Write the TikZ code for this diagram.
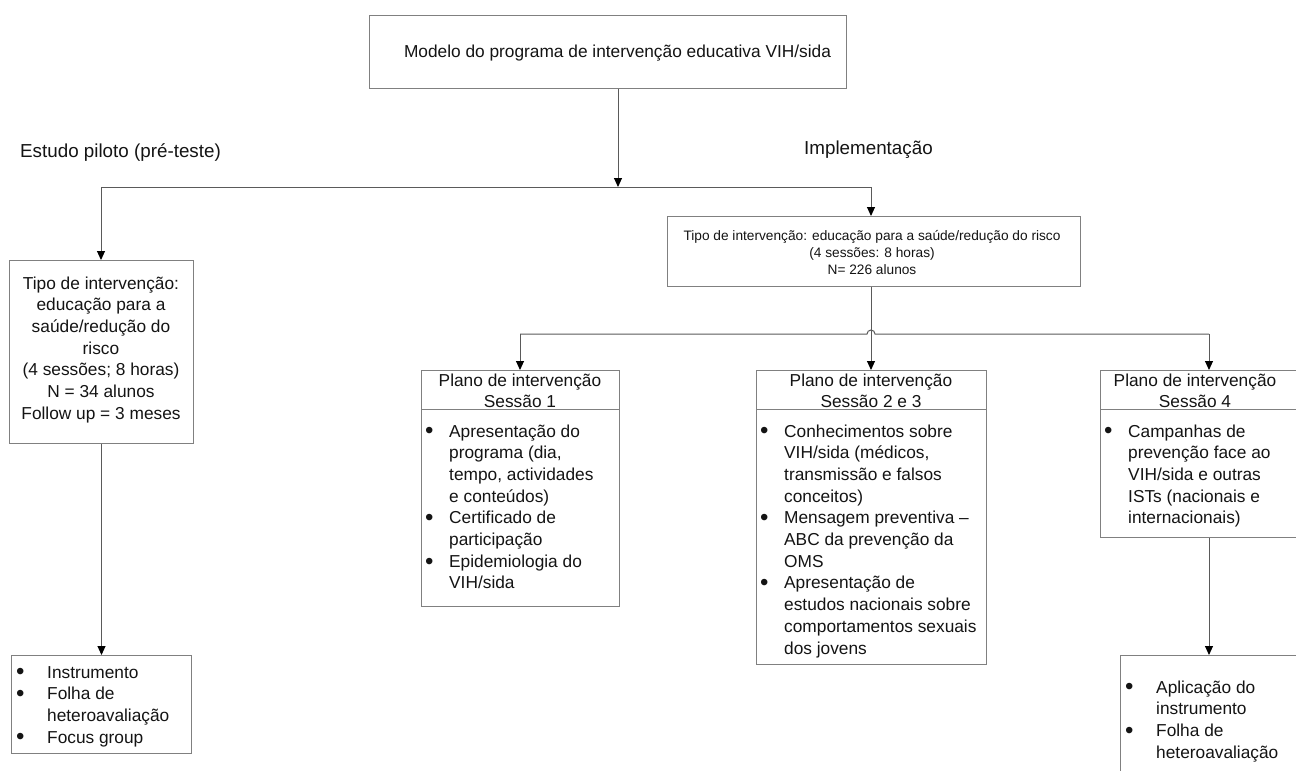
\documentclass[tikz,border=0pt]{standalone}
\usepackage{fontspec}
\setmainfont{Liberation Sans}
\usetikzlibrary{arrows.meta}
\definecolor{framegray}{RGB}{128,128,128}
\definecolor{linegray}{RGB}{90,90,90}
\definecolor{txt}{RGB}{20,20,20}
\newcommand\mainfs{\fontsize{17.3pt}{21.7pt}\selectfont}
\newcommand\smallfs{\fontsize{13.7pt}{17pt}\selectfont}
\newcommand\labelfs{\fontsize{18.8pt}{22pt}\selectfont}
\newcommand\bul{\raisebox{-1.8pt}{\fontsize{24pt}{0pt}\selectfont\textbullet}}
\begin{document}
\begin{tikzpicture}[x=1pt,y=-1pt,
  frame/.style={draw=framegray, line width=1pt, inner sep=0pt, anchor=north west, rectangle},
  rule/.style={draw=framegray, line width=1pt},
  conn/.style={draw=linegray, line width=1pt, -{Triangle[width=8pt,length=9pt,color=black]}},
  plain/.style={draw=linegray, line width=1pt},
  txtnode/.style={inner sep=0pt, text=txt, font=\mainfs},
  every node/.append style={text=txt}]
\path[use as bounding box] (0,0) rectangle (1296,771);
\fill[white] (0,0) rectangle (1296,771);
\clip (0,0) rectangle (1296,771);

% ---------- boxes ----------
\node[frame, minimum width=477pt, minimum height=73pt] (top) at (369,15) {};
\node[txtnode, anchor=base] (toptxt) at (617.5,57.5) {Modelo do programa de intervenção educativa VIH/sida};

\node[frame, minimum width=413pt, minimum height=70pt] (impl) at (667,216) {};
\node[txtnode, font=\smallfs, anchor=base] (impltxt) at (872,240)
  {\begin{tabular}[t]{@{}c@{}}Tipo de intervenção: educação para a saúde/redução do risco\\(4 sessões: 8 horas)\\N= 226 alunos\end{tabular}};

\node[frame, minimum width=184pt, minimum height=183pt] (pilot) at (9,260) {};
\node[txtnode, anchor=base] (pilottxt) at (101,289)
  {\begin{tabular}[t]{@{}c@{}}Tipo de intervenção:\\educação para a\\saúde/redução do\\risco\\(4 sessões; 8 horas)\\N = 34 alunos\\Follow up = 3 meses\end{tabular}};

\node[frame, minimum width=180pt, minimum height=98pt] (bl) at (11,655) {};
\node[txtnode, anchor=base west] (bltxt) at (16,678)
  {\begin{tabular}[t]{@{}p{31pt}@{}l@{}}\bul & Instrumento\\\bul & Folha de\\ & heteroavaliação\\\bul & Focus group\end{tabular}};

% session 1
\node[frame, minimum width=198pt, minimum height=236pt] (s1) at (421,370) {};
\draw[rule] ([yshift=-39pt]s1.north west) -- ([yshift=-39pt]s1.north east);
\node[txtnode, anchor=base] (s1head) at (520,386)
  {\begin{tabular}[t]{@{}c@{}}Plano de intervenção\\Sessão 1\end{tabular}};
\node[txtnode, anchor=base west] (s1body) at (425,437)
  {\begin{tabular}[t]{@{}p{24pt}@{}l@{}}\bul & Apresentação do\\ & programa (dia,\\ & tempo, actividades\\ & e conteúdos)\\\bul & Certificado de\\ & participação\\\bul & Epidemiologia do\\ & VIH/sida\end{tabular}};

% session 2 e 3
\node[frame, minimum width=230pt, minimum height=294pt] (s23) at (756,370) {};
\draw[rule] ([yshift=-39pt]s23.north west) -- ([yshift=-39pt]s23.north east);
\node[txtnode, anchor=base] (s23head) at (871,386)
  {\begin{tabular}[t]{@{}c@{}}Plano de intervenção\\Sessão 2 e 3\end{tabular}};
\node[txtnode, anchor=base west] (s23body) at (760,437)
  {\begin{tabular}[t]{@{}p{24pt}@{}l@{}}\bul & Conhecimentos sobre\\ & VIH/sida (médicos,\\ & transmissão e falsos\\ & conceitos)\\\bul & Mensagem preventiva –\\ & ABC da prevenção da\\ & OMS\\\bul & Apresentação de\\ & estudos nacionais sobre\\ & comportamentos sexuais\\ & dos jovens\end{tabular}};

% session 4
\node[frame, minimum width=218pt, minimum height=167pt] (s4) at (1100,370) {};
\draw[rule] ([yshift=-39pt]s4.north west) -- ([yshift=-39pt]s4.north east);
\node[txtnode, anchor=base] (s4head) at (1195,386)
  {\begin{tabular}[t]{@{}c@{}}Plano de intervenção\\Sessão 4\end{tabular}};
\node[txtnode, anchor=base west] (s4body) at (1104,437)
  {\begin{tabular}[t]{@{}p{24pt}@{}l@{}}\bul & Campanhas de\\ & prevenção face ao\\ & VIH/sida e outras\\ & ISTs (nacionais e\\ & internacionais)\end{tabular}};

\node[frame, minimum width=178pt, minimum height=140pt] (br) at (1120,655) {};
\node[txtnode, anchor=base west] (brtxt) at (1125,693)
  {\begin{tabular}[t]{@{}p{31pt}@{}l@{}}\bul & Aplicação do\\ & instrumento\\\bul & Folha de\\ & heteroavaliação\end{tabular}};

% ---------- labels ----------
\node[inner sep=0pt, font=\labelfs, anchor=base west] (lpilot) at (20,157) {Estudo piloto (pré-teste)};
\node[inner sep=0pt, font=\labelfs, anchor=base west] (limpl) at (804,154) {Implementação};

% ---------- connectors ----------
\coordinate (j0) at (618,187);
\coordinate (jl) at (101,187);
\coordinate (jr) at (871,187);
\coordinate (b1) at (520,334);
\coordinate (bm) at (871,334);
\coordinate (b2) at (1209,334);

\draw[conn] (top.south -| j0) -- (j0);
\draw[plain] (jl) -- (jr);
\draw[conn] (jl) -- (pilot.north -| jl);
\draw[conn] (jr) -- (impl.north -| jr);

\draw[plain] (b1) -- ([xshift=-4pt]bm) arc[start angle=180, end angle=360, radius=4] -- (b2);
\draw[conn] (impl.south -| bm) -- (s23.north -| bm);
\draw[conn] (b1) -- (s1.north -| b1);
\draw[conn] (b2) -- (s4.north -| b2);

\draw[conn] (pilot.south) -- (bl.north -| pilot.south);
\draw[conn] (s4.south -| b2) -- (br.north -| b2);
\end{tikzpicture}
\end{document}
